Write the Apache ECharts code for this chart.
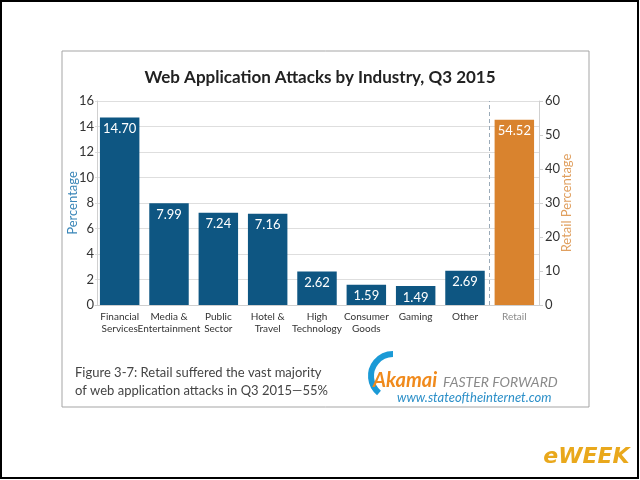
<!DOCTYPE html>
<html>
<head>
<meta charset="utf-8">
<title>Web Application Attacks by Industry, Q3 2015</title>
<script src="https://cdn.jsdelivr.net/npm/echarts@6/dist/echarts.min.js"></script>
<style>
  html, body { margin: 0; padding: 0; background: #000; }
  #chart { width: 640px; height: 480px; }
</style>
</head>
<body>
<div id="chart"></div>
<script>
// data
var categories = ['Financial\nServices', 'Media &\nEntertainment', 'Public\nSector', 'Hotel &\nTravel',
  'High\nTechnology', 'Consumer\nGoods', 'Gaming', 'Other', 'Retail'];
var industryValues = [14.70, 7.99, 7.24, 7.16, 2.62, 1.59, 1.49, 2.69, '-'];
var retailValues = ['-', '-', '-', '-', '-', '-', '-', '-', 54.52];
var leftTicks = { min: 0, max: 16, interval: 2 };
var rightTicks = { min: 0, max: 60, interval: 10 };

var blue = '#0e5682';
var orange = '#d9832e';
var font = 'Lato, "Open Sans", sans-serif';

var chart = echarts.init(document.getElementById('chart'));

var xData = categories.map(function (c) {
  return c === 'Retail' ? { value: c, textStyle: { color: '#8a8a8a' } } : c;
});

var valueLabel = {
  show: true,
  position: 'insideTop',
  distance: 5,
  color: '#fff',
  fontSize: 13,
  fontFamily: font,
  formatter: function (p) { return p.value.toFixed(2); }
};

chart.setOption({
  backgroundColor: '#fff',
  animation: false,
  textStyle: { fontFamily: font },
  title: {
    text: 'Web Application Attacks by Industry, Q3 2015',
    left: 'center',
    top: 64,
    textStyle: { fontSize: 17, fontWeight: 'bold', color: '#222', fontFamily: font }
  },
  grid: { left: 95, right: 101, top: 101, bottom: 175 },
  xAxis: [{
    type: 'category',
    data: xData,
    axisLine: { show: true, lineStyle: { color: '#cfcfcf' } },
    axisTick: { show: false },
    axisLabel: { color: '#333', fontSize: 10, lineHeight: 12, margin: 6, interval: 0 }
  }, {
    // hidden helper axis: one unit per category band, used for the divider
    type: 'value',
    min: 0,
    max: categories.length,
    show: false
  }],
  yAxis: [{
    type: 'value',
    min: leftTicks.min, max: leftTicks.max, interval: leftTicks.interval,
    offset: -2,
    name: 'Percentage',
    nameLocation: 'middle',
    nameGap: 18,
    nameMoveOverlap: false,
    nameTextStyle: { color: '#3a86b8', fontSize: 13 },
    axisLine: { show: true, lineStyle: { color: '#d0d0d0' } },
    axisTick: { show: false },
    axisLabel: { color: '#333', fontSize: 13, margin: 3 },
    splitLine: { lineStyle: { color: '#dedede' } }
  }, {
    type: 'value',
    min: rightTicks.min, max: rightTicks.max, interval: rightTicks.interval,
    name: 'Retail Percentage',
    nameLocation: 'middle',
    nameGap: 21,
    nameRotate: 90,
    nameMoveOverlap: false,
    nameTextStyle: { color: '#e0a060', fontSize: 13 },
    axisLine: { show: true, lineStyle: { color: '#d0d0d0' } },
    axisTick: { show: true, length: 4, lineStyle: { color: '#d0d0d0' } },
    axisLabel: { color: '#333', fontSize: 13, margin: 6 },
    splitLine: { show: false }
  }],
  series: [{
    type: 'bar',
    name: 'Industry',
    yAxisIndex: 0,
    data: industryValues,
    barWidth: '80%',
    barGap: '-100%',
    itemStyle: { color: blue },
    label: valueLabel
  }, {
    type: 'bar',
    name: 'Retail',
    yAxisIndex: 1,
    data: retailValues,
    barWidth: '80%',
    itemStyle: { color: orange },
    label: valueLabel
  }, {
    type: 'line',
    name: 'divider',
    xAxisIndex: 1,
    yAxisIndex: 0,
    data: [],
    markLine: {
      silent: true,
      symbol: 'none',
      label: { show: false },
      lineStyle: { color: '#9aaab8', type: [4, 3], width: 1 },
      data: [{ xAxis: categories.length - 1 }]
    }
  }],
  graphic: [
    { type: 'rect', z: -10, shape: { x: 1, y: 1, width: 637, height: 477 },
      style: { fill: '#fff', stroke: '#000', lineWidth: 2 } },
    { type: 'rect', z: -5, shape: { x: 62, y: 51, width: 527, height: 356 },
      style: { fill: '#fff', stroke: '#a5a5a5', lineWidth: 1 } },
    { type: 'text', left: 75, top: 364,
      style: { text: 'Figure 3-7: Retail suffered the vast majority\nof web application attacks in Q3 2015\u201455%',
        fill: '#444', fontSize: 13, lineHeight: 18, fontFamily: font } },
    { type: 'arc', shape: { cx: 393, cy: 376, r: 22, startAngle: Math.PI * 0.72, endAngle: Math.PI * 1.5 },
      style: { stroke: '#1b9ad6', lineWidth: 6, fill: null } },
    { type: 'text', left: 373, top: 371,
      style: { text: 'Akamai', fill: '#f08a1c', fontSize: 20, fontWeight: 'bold', fontStyle: 'italic', fontFamily: font } },
    { type: 'text', left: 443, top: 375,
      style: { text: 'FASTER FORWARD', fill: '#8a8a8a', fontSize: 14, fontStyle: 'italic', fontFamily: font } },
    { type: 'text', left: 397, top: 391,
      style: { text: 'www.stateoftheinternet.com', fill: '#2b8fc8', fontSize: 13, fontStyle: 'italic', fontFamily: font } },
    { type: 'text', right: 10, top: 446,
      style: { text: 'eWEEK', fill: '#e9a81c', stroke: '#fff', lineWidth: 1, fontSize: 22, fontWeight: 'bold',
        fontStyle: 'italic', fontFamily: '"DejaVu Sans", sans-serif',
        shadowColor: 'rgba(0,0,0,0.5)', shadowBlur: 3, shadowOffsetX: 2, shadowOffsetY: 2 } }
  ]
});
</script>
</body>
</html>
